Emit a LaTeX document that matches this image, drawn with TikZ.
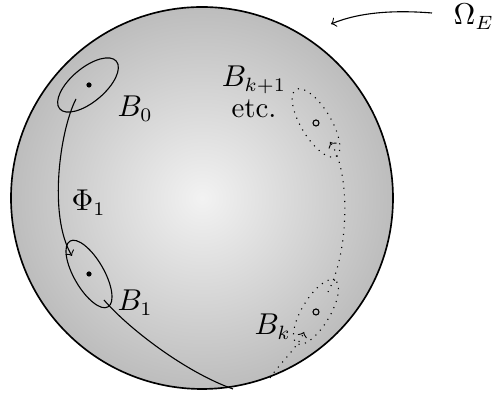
\documentclass[tikz,border=0pt]{standalone}
\definecolor{sphc}{gray}{0.95}
\definecolor{sphe}{gray}{0.53}
\pgfdeclareradialshading{sphereshade}{\pgfpoint{0bp}{0bp}}{color(0bp)=(sphc); color(50bp)=(sphe)}
\tikzset{
  lbl/.style={anchor=base west, inner sep=0pt, font=\fontsize{10.5}{12}\selectfont},
  dotline/.style={dotted, ->},
  ell/.style={},
  dotell/.style={dotted},
}
\begin{document}
\begin{tikzpicture}[x=0.3636pt,y=0.3636pt]
\useasboundingbox (0,0) rectangle (493,-394);
\coordinate (O) at (202,-198);
\path[shading=sphereshade] (O) circle[radius=191];
\draw[semithick] (O) circle[radius=191];
% ellipses
\coordinate (b0) at (88,-85);
\coordinate (b1) at (89,-274);
\coordinate (bk1) at (316,-123);
\coordinate (bk) at (316,-312);
\draw[ell] (b0) circle[x radius=37, y radius=17, rotate=40];
\draw[ell] (b1) circle[x radius=38, y radius=15, rotate=-60];
\draw[dotell] (bk1) circle[x radius=39, y radius=15, rotate=-59];
\draw[dotell] (bk) circle[x radius=37, y radius=14, rotate=59];
\fill (89,-85) circle[radius=2.6];
\fill (89,-274) circle[radius=2.6];
\draw (316,-123) circle[radius=3];
\draw (316,-312) circle[radius=3];
% curves
\coordinate (p0) at (76,-99);
\coordinate (p1) at (72,-256);
\coordinate (p2) at (104,-300);
\coordinate (p3) at (233,-389);
\draw[->] (p0) .. controls (60,-130) and (48,-215) .. (p1);
\draw (p2) .. controls (128,-328) and (185,-372) .. (p3);
\coordinate (q0) at (270,-378);
\coordinate (q1) at (304,-332);
\coordinate (q2) at (328,-292);
\coordinate (q3) at (330,-142);
\draw[dotline] (q0) .. controls (280,-363) and (298,-347) .. (q1);
\draw[dotline] (q2) .. controls (350,-250) and (350,-170) .. (q3);
% labels
\node[lbl] (lb0) at (117,-117) {$B_0$};
\node[lbl] (lphi) at (71,-211) {$\Phi_1$};
\node[lbl] (lb1) at (117,-311) {$B_1$};
\node[anchor=south, inner sep=0pt, align=center, font=\fontsize{10.5}{12}\selectfont] (lbk1) at (254,-118) {$B_{k+1}$\\[-1pt]etc.};
\node[lbl] (lbk) at (254,-335) {$B_k$};
\node[lbl] (lom) at (453,-25) {$\Omega_E$};
\coordinate (os) at (432,-13);
\coordinate (oe) at (331,-24);
\draw[->] (os) .. controls (395,-10) and (360,-12) .. (oe);
\end{tikzpicture}
\end{document}
